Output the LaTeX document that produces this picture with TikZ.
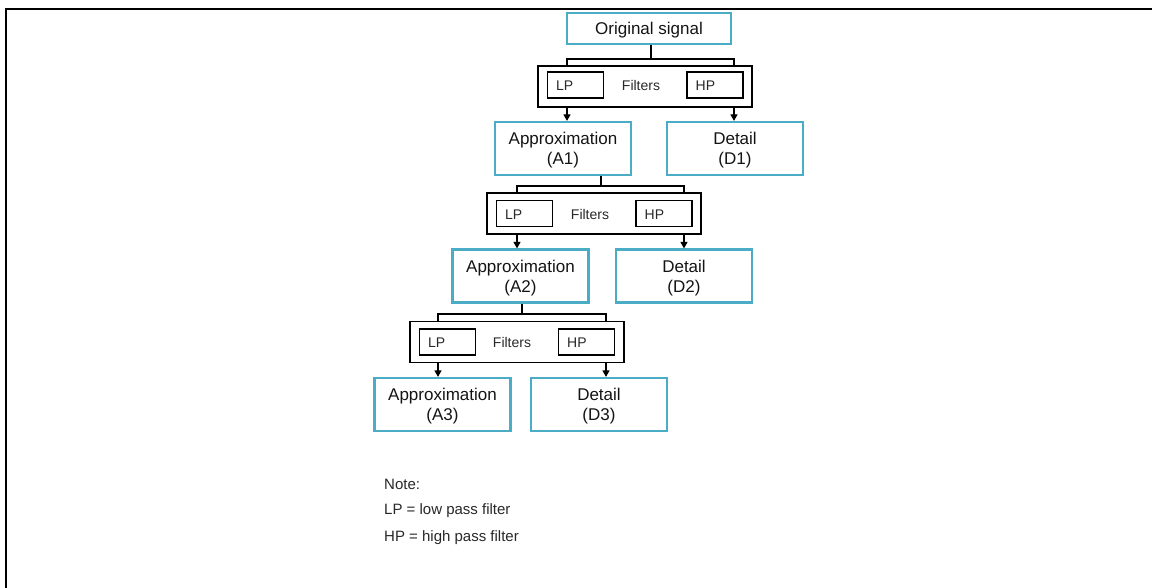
\documentclass[tikz,border=0pt]{standalone}
\usepackage{fontspec}
\setmainfont{Liberation Sans}
\usetikzlibrary{arrows.meta,calc}
\definecolor{aqua}{RGB}{75,172,198}
\definecolor{ink}{RGB}{20,20,20}
\definecolor{greytext}{RGB}{40,40,40}
\begin{document}
\begin{tikzpicture}[x=1pt,y=-1pt,
  stagebox/.style={draw=aqua,line width=2.2pt,fill=white,inner sep=0pt,
    minimum width=136pt,minimum height=53pt},
  stagetext/.style={inner sep=0pt,align=center,text=ink,
    font=\fontsize{17}{20}\selectfont,yshift=-2pt},
  filterbank/.style={draw=black,line width=1.1pt,inner sep=0pt,
    minimum width=214pt,minimum height=41pt},
  filterbox/.style={draw=black,line width=1.1pt,inner sep=0pt,
    minimum width=56pt,minimum height=26pt},
  filtertext/.style={text=greytext,font=\fontsize{14}{16}\selectfont,inner sep=0pt,anchor=west,yshift=-1pt},
  filterlabel/.style={text=greytext,font=\fontsize{14}{16}\selectfont,inner sep=0pt,yshift=-0.5pt},
  conn/.style={draw=black,line width=1.2pt},
  feed/.style={conn,-{Triangle[width=7pt,length=6.5pt]}},
  notetext/.style={anchor=west,inner sep=0pt,text=greytext,font=\fontsize{15}{17}\selectfont}]

\useasboundingbox (0,0) rectangle (1152,588);
\draw[line width=2.2pt] (6.3,588) -- (6.3,9.3) -- (1152,9.3);

% source
\node[stagebox,minimum width=164pt,minimum height=31pt] (orig) at (649,28.5) {};
\node[stagetext] (origt) at (orig.center) {Original signal};

% level 1
\node[filterbank] (fb1) at (645,86.5) {};
\node[filterbox] (lp1) at (575.5,85) {};
\node[filterbox] (hp1) at (715,85) {};
\node[filtertext] (lp1t) at ([xshift=9pt]lp1.west) {LP};
\node[filtertext] (hp1t) at ([xshift=9pt]hp1.west) {HP};
\node[filterlabel] (fl1) at (641,85) {Filters};
\node[stagebox] (a1) at (563,148.5) {};
\node[stagetext] (a1t) at (a1.center) {Approximation\\(A1)};
\node[stagebox] (d1) at (735,148.5) {};
\node[stagetext] (d1t) at (d1.center) {Detail\\(D1)};

% level 2
\node[filterbank] (fb2) at (594,213.5) {};
\node[filterbox] (lp2) at (524.5,213.5) {};
\node[filterbox] (hp2) at (664,213.5) {};
\node[filtertext] (lp2t) at ([xshift=9pt]lp2.west) {LP};
\node[filtertext] (hp2t) at ([xshift=9pt]hp2.west) {HP};
\node[filterlabel] (fl2) at (590,213.5) {Filters};
\node[stagebox] (a2) at (520.5,276) {};
\node[stagetext] (a2t) at (a2.center) {Approximation\\(A2)};
\node[stagebox] (d2) at (684,276) {};
\node[stagetext] (d2t) at (d2.center) {Detail\\(D2)};

% level 3
\node[filterbank] (fb3) at (517,342) {};
\node[filterbox] (lp3) at (447.5,342) {};
\node[filterbox] (hp3) at (586.5,342) {};
\node[filtertext] (lp3t) at ([xshift=9pt]lp3.west) {LP};
\node[filtertext] (hp3t) at ([xshift=9pt]hp3.west) {HP};
\node[filterlabel] (fl3) at (512,342) {Filters};
\node[stagebox] (a3) at (442.5,404.5) {};
\node[stagetext] (a3t) at (a3.center) {Approximation\\(A3)};
\node[stagebox] (d3) at (599,404.5) {};
\node[stagetext] (d3t) at (d3.center) {Detail\\(D3)};

% taps feeding each filter bank
\coordinate (t1) at (651,59);
\coordinate (t2) at (601,186);
\coordinate (t3) at (522,314);
\draw[conn] (orig.south -| t1) -- (t1);
\draw[conn] (fb1.north -| 567,0) |- (t1) -| (fb1.north -| 734,0);
\draw[conn] (a1.south -| t2) -- (t2);
\draw[conn] (fb2.north -| 517,0) |- (t2) -| (fb2.north -| 684,0);
\draw[conn] (a2.south -| t3) -- (t3);
\draw[conn] (fb3.north -| 438,0) |- (t3) -| (fb3.north -| 606,0);

% filter outputs
\draw[feed] (fb1.south -| 567,0) -- (a1.north -| 567,0);
\draw[feed] (fb1.south -| 734,0) -- (d1.north -| 734,0);
\draw[feed] (fb2.south -| 517,0) -- (a2.north -| 517,0);
\draw[feed] (fb2.south -| 684,0) -- (d2.north -| 684,0);
\draw[feed] (fb3.south -| 438,0) -- (a3.north -| 438,0);
\draw[feed] (fb3.south -| 606,0) -- (d3.north -| 606,0);

% legend
\node[notetext] (n0) at (384,484) {Note:};
\node[notetext] (n1) at (384,511) {LP = low pass filter};
\node[notetext] (n2) at (384,538) {HP = high pass filter};
\end{tikzpicture}
\end{document}
